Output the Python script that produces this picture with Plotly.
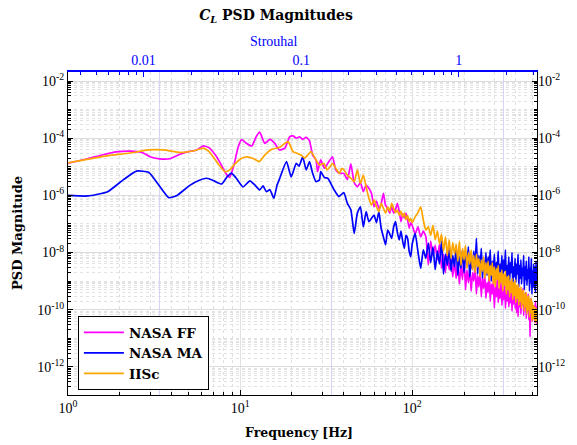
import numpy as np
import plotly.graph_objects as go

# ---------------- data (log10 of PSD magnitude) ----------------
ff_freq_lo = [1.0, 1.3, 1.6, 1.9, 2.3, 2.7, 3.0, 3.4, 3.9, 4.4,
              5.0, 5.6, 6.1, 6.6, 7.2, 7.8, 8.3, 8.7, 9.2, 9.7,
              10.2, 10.9, 11.7, 12.4, 13.0, 13.9, 14.9, 15.9, 16.9, 18.2,
              19.4, 20.3, 21.2, 22.2, 23.1, 24.2, 25.3, 26.4, 27.6, 28.2,
              29.4, 30.9, 32.3, 34.4, 36.0, 38.0]
ff_log_lo = [-4.87, -4.72, -4.58, -4.48, -4.45, -4.50, -4.65, -4.72, -4.72, -4.58,
             -4.47, -4.41, -4.27, -4.33, -4.60, -4.95, -5.25, -5.37, -4.95, -4.35,
             -4.05, -4.18, -4.27, -3.95, -3.79, -4.18, -4.04, -4.18, -4.41, -4.35,
             -3.95, -3.92, -4.00, -3.95, -4.04, -3.97, -4.09, -4.59, -4.76, -5.17,
             -4.76, -5.05, -4.88, -4.65, -5.11, -5.23]

ma_freq_lo = [1.0, 1.3, 1.7, 2.1, 2.5, 2.95, 3.35, 3.85, 4.3, 5.1,
              5.8, 6.4, 7.1, 7.8, 8.4, 8.9, 9.5, 10.4, 11.4, 12.2,
              13.0, 13.6, 14.2, 14.9, 15.7, 16.4, 17.0, 18.6, 19.8, 21.2,
              22.0, 23.1, 24.2, 25.3, 26.4, 27.6, 28.9, 29.4, 30.9, 32.3,
              35.2, 37.5]
ma_log_lo = [-6.00, -6.02, -5.87, -5.45, -5.15, -5.20, -5.62, -6.08, -6.00, -5.65,
             -5.47, -5.40, -5.50, -5.60, -5.35, -5.22, -5.40, -5.70, -5.49, -5.64,
             -5.81, -5.67, -5.87, -5.80, -6.10, -5.64, -5.40, -4.82, -5.35, -4.88,
             -4.98, -4.65, -5.11, -4.82, -5.23, -5.52, -5.46, -5.17, -5.38, -5.40,
             -5.81, -6.04]

ii_freq_lo = [1.0, 1.55, 2.4, 2.9, 3.6, 4.5, 5.4, 6.1, 6.6, 7.3,
              8.15, 8.7, 9.4, 10.2, 11.0, 12.0, 12.9, 13.9, 15.3, 17.0,
              18.0, 19.0, 20.3, 21.5, 22.8, 23.7, 25.8, 27.6, 29.0, 30.6,
              32.0, 33.3, 34.4, 36.0, 37.8, 39.0]
ii_log_lo = [-4.86, -4.65, -4.50, -4.41, -4.41, -4.50, -4.44, -4.35, -4.47, -4.82,
             -5.17, -5.11, -4.88, -4.70, -4.65, -4.72, -4.82, -4.59, -4.39, -4.32,
             -4.20, -4.12, -4.47, -4.53, -4.60, -4.70, -4.47, -4.76, -4.94, -4.88,
             -5.11, -5.00, -4.88, -5.05, -5.23, -5.05]

freq_hi = [40, 42, 44, 46, 48, 50, 52, 54, 56, 58,
           60, 62, 64, 66, 68, 70, 72, 74, 76, 78,
           80, 82, 84, 86, 88, 90, 92, 94, 96, 98,
           100, 104, 108, 112, 116, 120, 124, 128, 132, 136,
           140, 144, 148, 152, 156, 160, 164, 168, 172, 176,
           180, 184, 188, 192, 196, 200, 204, 208, 212, 216,
           220, 224, 228, 232, 236, 240, 244, 248, 252, 256,
           260, 264, 268, 272, 276, 280, 284, 288, 292, 296,
           300, 304, 308, 312, 316, 320, 324, 328, 332, 336,
           340, 344, 348, 352, 356, 360, 364, 368, 372, 376,
           380, 384, 388, 392, 396, 400, 404, 408, 412, 416,
           420, 424, 428, 432, 436, 440, 444, 448, 452, 456,
           460, 464, 468, 472, 476, 480, 484, 488, 492, 496,
           500, 504, 508, 512, 516, 520, 524, 528, 532]

ff_log_hi = [-5.23, -5.45, -4.90, -5.55, -5.70, -5.55, -5.87, -5.64, -5.75, -5.93,
             -6.40, -6.20, -6.45, -6.30, -5.93, -6.35, -6.45, -6.62, -6.40, -6.62,
             -6.50, -6.28, -6.55, -6.92, -6.65, -6.80, -6.62, -6.85, -7.15, -6.95,
             -7.05, -7.35, -7.10, -7.45, -7.25, -7.44, -8.43, -7.60, -8.10, -7.75,
             -8.25, -7.70, -8.55, -8.05, -8.70, -7.95, -8.60, -8.20, -8.85, -8.30,
             -8.90, -8.35, -9.10, -8.45, -8.95, -8.05, -9.30, -8.60, -9.05, -8.55,
             -9.35, -8.70, -9.00, -8.40, -9.45, -8.80, -9.20, -8.65, -9.55, -8.90,
             -9.25, -8.75, -9.60, -9.05, -9.40, -8.70, -9.70, -9.10, -9.45, -8.95,
             -9.94, -9.20, -9.55, -8.90, -9.75, -9.25, -9.60, -9.05, -9.85, -9.30,
             -9.65, -9.00, -9.95, -9.35, -9.70, -9.10, -9.90, -9.45, -9.75, -9.20,
             -10.05, -9.40, -9.80, -9.15, -9.95, -9.50, -10.10, -9.35, -10.24, -9.60,
             -9.90, -9.30, -10.15, -9.55, -9.85, -9.25, -10.20, -9.65, -9.95, -9.40,
             -10.30, -9.70, -10.05, -9.45, -10.35, -9.80, -10.95, -9.60, -10.20, -9.75,
             -10.40, -9.90, -10.30, -9.85, -10.45, -9.70, -10.25, -9.90, -10.50]

ma_log_hi = [-5.90, -6.28, -6.50, -7.33, -6.62, -6.40, -7.10, -6.57, -6.92, -6.80,
             -6.69, -6.95, -6.57, -7.15, -7.45, -7.73, -7.21, -7.35, -7.50, -7.10,
             -6.92, -7.30, -7.56, -7.25, -7.60, -7.85, -7.40, -7.50, -7.95, -8.14,
             -7.70, -7.33, -7.97, -8.55, -7.90, -8.20, -7.67, -8.35, -7.80, -8.60,
             -7.95, -8.40, -7.60, -8.75, -8.05, -8.45, -7.85, -8.65, -8.10, -8.50,
             -7.75, -8.80, -8.15, -8.55, -7.90, -8.70, -8.05, -8.45, -7.80, -8.85,
             -8.20, -8.60, -7.95, -8.50, -7.50, -8.75, -8.10, -8.55, -7.85, -8.90,
             -8.25, -8.65, -8.00, -8.80, -8.15, -8.50, -7.90, -9.00, -8.30, -8.70,
             -8.05, -8.85, -8.35, -8.60, -7.95, -9.05, -8.40, -8.75, -8.10, -8.95,
             -8.25, -8.65, -7.90, -9.10, -8.45, -8.80, -8.15, -9.00, -8.35, -8.70,
             -8.00, -9.15, -8.50, -8.85, -8.20, -9.05, -8.40, -8.75, -8.05, -9.20,
             -8.45, -8.90, -8.25, -9.10, -8.55, -8.80, -8.10, -9.30, -8.50, -8.95,
             -8.30, -9.15, -8.60, -8.90, -8.15, -9.35, -8.55, -9.05, -8.20, -9.45,
             -8.65, -9.20, -8.40, -9.25, -8.50, -9.40, -8.30, -9.10, -8.60]

ii_log_hi = [-5.10, -5.29, -5.40, -5.52, -5.11, -5.58, -5.29, -5.70, -6.10, -6.34,
             -6.16, -6.40, -6.57, -6.28, -6.45, -6.62, -6.40, -6.55, -6.28, -6.45,
             -6.60, -6.51, -6.69, -6.55, -6.75, -6.62, -6.85, -6.70, -6.92, -6.80,
             -6.95, -6.75, -6.60, -6.40, -6.86, -7.21, -7.10, -7.40, -7.05, -7.55,
             -7.25, -7.70, -7.35, -7.95, -7.45, -8.10, -7.55, -8.20, -7.65, -8.05,
             -7.70, -8.30, -7.60, -8.45, -7.85, -8.25, -7.75, -8.55, -8.00, -8.40,
             -7.90, -8.60, -8.10, -8.70, -8.05, -8.50, -8.20, -8.85, -8.25, -8.65,
             -8.15, -8.90, -8.35, -8.75, -8.30, -9.00, -8.45, -8.80, -8.35, -9.10,
             -8.50, -9.20, -8.55, -8.95, -8.45, -9.25, -8.70, -9.05, -8.60, -9.35,
             -8.75, -9.15, -8.65, -9.45, -8.85, -9.30, -8.80, -9.55, -9.00, -9.40,
             -8.90, -9.65, -9.05, -9.50, -8.95, -9.75, -9.15, -9.60, -9.10, -9.85,
             -9.25, -9.70, -9.20, -9.95, -9.35, -9.80, -9.30, -10.05, -9.45, -9.90,
             -9.40, -10.15, -9.55, -10.00, -9.50, -10.25, -9.65, -10.10, -9.60, -10.40,
             -9.75, -10.30, -9.85, -10.35, -9.90, -10.45, -9.95, -10.20, -10.40]

series_names = ["NASA FF", "NASA MA", "IISc"]
series_colors = ["#FF00FF", "#0000FF", "#FFA500"]

y_tick_exps = [-12, -10, -8, -6, -4, -2]
x_tick_vals = [1, 10, 100]
x_tick_text = ["10<sup>0</sup>", "10<sup>1</sup>", "10<sup>2</sup>"]
st_tick_vals = [0.01, 0.1, 1]
st_tick_text = ["0.01", "0.1", "1"]

# ---------------- figure ----------------
SERIF = "Liberation Serif"
BOLDSERIF = "DejaVu Serif"
W, H = 577, 445
ML, MR, MT, MB = 68, 35, 72, 50
PW, PH = W - ML - MR, H - MT - MB

fig = go.Figure()
datasets = [
    (ff_freq_lo + freq_hi, ff_log_lo + ff_log_hi),
    (ma_freq_lo + freq_hi, ma_log_lo + ma_log_hi),
    (ii_freq_lo + freq_hi, ii_log_lo + ii_log_hi),
]
for (f, lp), name, col in zip(datasets, series_names, series_colors):
    fig.add_trace(go.Scatter(
        x=f, y=np.power(10.0, np.array(lp)), mode="lines",
        name="<b>%s</b>" % name,
        line=dict(color=col, width=1.7, shape="spline", smoothing=0.5),
    ))

# helper traces that make the extra axes render
fig.add_trace(go.Scatter(x=[], y=[], xaxis="x2", yaxis="y", showlegend=False, hoverinfo="skip"))
fig.add_trace(go.Scatter(x=[], y=[], xaxis="x", yaxis="y2", showlegend=False, hoverinfo="skip"))
fig.add_trace(go.Scatter(x=[], y=[], xaxis="x3", yaxis="y", showlegend=False, hoverinfo="skip"))

x_minor = [k * 10 ** e for e in range(0, 3) for k in range(2, 10) if k * 10 ** e < 540]
st_minor = [k * 10.0 ** e for e in range(-3, 1) for k in range(2, 10)]
st_minor = [v for v in st_minor if 10 ** -2.47 < v < 10 ** 0.5]
y_minor = []
for e in range(-13, -1):
    for k in range(1, 10):
        v = k * 10.0 ** e
        if k == 1 and e in y_tick_exps:
            continue
        y_minor.append(v)

tickfont = dict(family=SERIF, size=14, color="black")
yr = [-12.98, -1.685]

fig.update_layout(
    width=W, height=H,
    margin=dict(l=ML, r=MR, t=MT, b=MB),
    paper_bgcolor="white", plot_bgcolor="white",
    showlegend=True,
    title=dict(
        text="<b><i>C</i><sub><i>L</i></sub> PSD Magnitudes</b>",
        x=276 / W, xanchor="center", y=1 - 15 / H, yanchor="middle",
        font=dict(family=BOLDSERIF, size=14, color="black"),
    ),
    xaxis=dict(
        type="log", range=[0, 2.725], tickmode="array",
        tickvals=x_tick_vals, ticktext=x_tick_text,
        ticks="inside", ticklen=5, tickcolor="black", tickwidth=1,
        showline=True, linecolor="black", linewidth=1, mirror=False,
        showgrid=True, gridcolor="#e2e2e2", gridwidth=1, zeroline=False,
        tickfont=tickfont,
        minor=dict(tickmode="array", tickvals=x_minor, ticks="inside", ticklen=3,
                   tickcolor="black", showgrid=True, gridcolor="#e0e0e0", griddash="dot"),
    ),
    xaxis2=dict(
        type="log", overlaying="x", side="top", anchor="y",
        range=[-2.48, 0.497], tickmode="array",
        tickvals=st_tick_vals, ticktext=st_tick_text,
        ticks="inside", ticklen=5, tickcolor="#0000FF",
        showline=True, linecolor="#0000FF", linewidth=1.5,
        showgrid=False, zeroline=False,
        tickfont=dict(family=SERIF, size=14, color="#0000FF"),
        minor=dict(tickmode="array", tickvals=st_minor, ticks="inside", ticklen=3,
                   tickcolor="#0000FF", showgrid=False),
    ),
    xaxis3=dict(
        type="log", overlaying="x", anchor="y",
        range=[-2.531, 0.195], tickmode="array", tickvals=st_tick_vals,
        showticklabels=False, ticks="", showline=False, zeroline=False,
        showgrid=True, gridcolor="#d4d4f4", gridwidth=1,
    ),
    yaxis=dict(
        type="log", range=yr, tickmode="array",
        tickvals=[10.0 ** e for e in y_tick_exps],
        ticktext=["10<sup>%d</sup>" % e for e in y_tick_exps],
        ticks="inside", ticklen=5, tickcolor="black",
        showline=True, linecolor="black", linewidth=1, mirror="ticks",
        showgrid=True, gridcolor="#dcdcdc", gridwidth=1, zeroline=False,
        tickfont=tickfont,
        minor=dict(tickmode="array", tickvals=y_minor, ticks="inside", ticklen=3,
                   tickcolor="black", showgrid=True, gridcolor="#e2e2e2", griddash="dot"),
    ),
    yaxis2=dict(
        type="log", overlaying="y", side="right", anchor="x",
        range=yr, tickmode="array",
        tickvals=[10.0 ** e for e in y_tick_exps],
        ticktext=["10<sup>%d</sup>" % e for e in y_tick_exps],
        ticks="", showline=False, showgrid=False, zeroline=False,
        tickfont=tickfont,
    ),
    legend=dict(
        x=(78 - ML) / PW, y=(H - MB - 316) / PH,
        xanchor="left", yanchor="top",
        bgcolor="white", bordercolor="black", borderwidth=1,
        font=dict(family=BOLDSERIF, size=13.5, color="black"),
        tracegroupgap=0, itemwidth=40,
    ),
    annotations=[
        dict(text="Strouhal", xref="paper", yref="paper",
             x=(276 - ML) / PW, y=(H - MB - 41) / PH,
             xanchor="center", yanchor="middle", showarrow=False,
             font=dict(family=SERIF, size=14, color="#0000FF")),
        dict(text="<b>Frequency [Hz]</b>", xref="paper", yref="paper",
             x=(301 - ML) / PW, y=(H - MB - 432) / PH,
             xanchor="center", yanchor="middle", showarrow=False,
             font=dict(family=BOLDSERIF, size=12.5, color="black")),
        dict(text="<b>PSD Magnitude</b>", xref="paper", yref="paper",
             x=(17 - ML) / PW, y=0.5, textangle=-90,
             xanchor="center", yanchor="middle", showarrow=False,
             font=dict(family=BOLDSERIF, size=13, color="black")),
    ],
)

fig.write_html("out.html")
